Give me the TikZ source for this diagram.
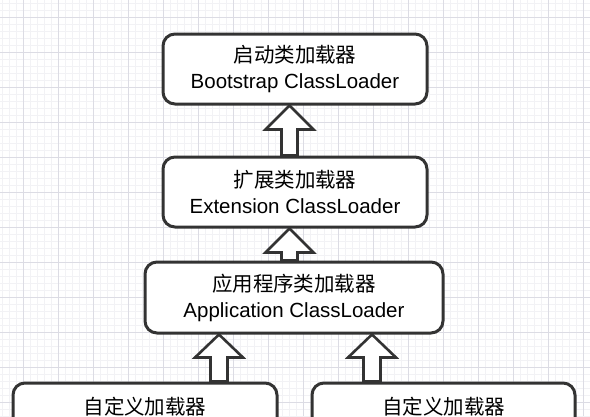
\documentclass[tikz,border=0pt]{standalone}
\usepackage{fontspec}
\setmainfont{Liberation Sans}
\newfontfamily\cjk{Noto Sans CJK SC}
\usetikzlibrary{calc}
\definecolor{gridmajor}{HTML}{DCDCE4}
\definecolor{gridminor}{HTML}{F2F2F5}
\definecolor{edge}{HTML}{333333}
\tikzset{
  loaderbox/.style={draw=edge, line width=3pt, rounded corners=12pt, fill=white,
    minimum width=#1, minimum height=70pt, inner sep=0pt, align=center,
    font=\fontsize{20.5}{26}\selectfont},
  blockarrow/.style={draw=edge, line width=2.6pt, fill=white, line join=miter},
  lbl/.style={font=\fontsize{20.5}{26}\selectfont, inner sep=0pt}
}
\begin{document}
\begin{tikzpicture}[x=1pt,y=-1pt]
\useasboundingbox (0,0) rectangle (590,416);
\clip (0,0) rectangle (590,416);
\fill[white] (0,0) rectangle (590,416);
% grid
\foreach \x in {2,9,...,590} \draw[gridminor, line width=0.6pt] (\x,0) -- (\x,416);
\foreach \y in {3,10,...,416} \draw[gridminor, line width=0.6pt] (0,\y) -- (590,\y);
\foreach \x in {23,58,...,590} \draw[gridmajor, line width=0.9pt] (\x,0) -- (\x,416);
\foreach \y in {17,52,...,416} \draw[gridmajor, line width=0.9pt] (0,\y) -- (590,\y);
% boxes
\node[loaderbox=264pt] (boot) at (295,69) {{\cjk 启动类加载器}\\Bootstrap ClassLoader};
\node[loaderbox=264pt] (ext) at (295,192) {{\cjk 扩展类加载器}\\Extension ClassLoader};
\node[loaderbox=298pt, minimum height=71pt] (app) at (294,297.5) {{\cjk 应用程序类加载器}\\Application ClassLoader};
\node[loaderbox=264pt] (c1) at (145,418) {};
\node[loaderbox=263pt] (c2) at (443.5,418) {};
\node[lbl] (c1t) at ($(c1.center)+(0,-11)$) {\cjk 自定义加载器};
\node[lbl] (c2t) at ($(c2.center)+(0,-11)$) {\cjk 自定义加载器};
% block arrows
\coordinate (t1) at ($(boot.south)+(-5.5,0)$);
\draw[blockarrow] (t1) -- ++(24,24) -- ++(-16,0) coordinate (r1) -- (r1 |- ext.north)
  -- ++(-16,0) -- ($(t1)+(-8,24)$) -- ($(t1)+(-24,24)$) -- cycle;
\coordinate (t2) at ($(ext.south)+(-5.5,0)$);
\draw[blockarrow] (t2) -- ++(24,24) -- ++(-16,0) coordinate (r2) -- (r2 |- app.north)
  -- ++(-16,0) -- ($(t2)+(-8,24)$) -- ($(t2)+(-24,24)$) -- cycle;
\coordinate (t3) at ($(app.south)+(-75,0)$);
\draw[blockarrow] (t3) -- ++(24,23) -- ++(-15.5,0) coordinate (r3) -- (r3 |- c1.north)
  -- ++(-17,0) -- ($(t3)+(-8.5,23)$) -- ($(t3)+(-24,23)$) -- cycle;
\coordinate (t4) at ($(app.south)+(78,0)$);
\draw[blockarrow] (t4) -- ++(24,23) -- ++(-15.5,0) coordinate (r4) -- (r4 |- c2.north)
  -- ++(-17,0) -- ($(t4)+(-8.5,23)$) -- ($(t4)+(-24,23)$) -- cycle;
\end{tikzpicture}
\end{document}
